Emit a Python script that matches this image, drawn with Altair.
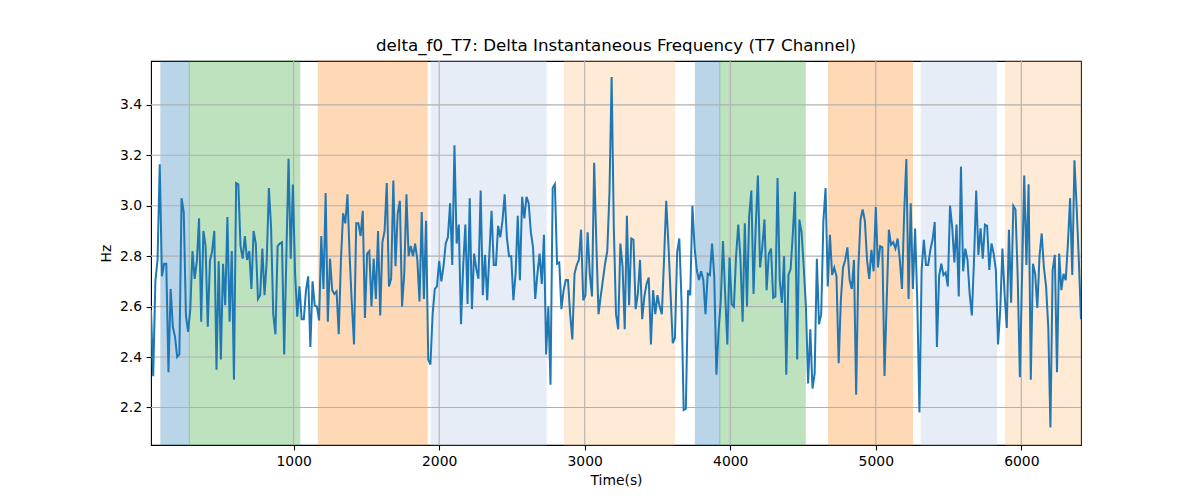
import altair as alt
import pandas as pd

# ---- data ----
time_start = 20      # s, first sample
time_step = 15       # s, sample spacing

freq_hz = [
    # 20 .. 800 s
    2.585, 2.324, 2.70, 2.785, 3.164, 2.72, 2.77, 2.77, 2.34, 2.67,
    2.52, 2.48, 2.40, 2.41, 3.03, 2.975, 2.565, 2.50, 2.59, 2.82,
    2.71, 2.78, 2.95, 2.54, 2.90, 2.84, 2.52, 2.78, 2.82, 2.90,
    2.35, 2.78, 2.39, 2.77, 2.605, 2.955, 2.54, 2.82, 2.31, 3.09,
    3.085, 2.84, 2.79, 2.88, 2.785, 2.82, 2.67, 2.90, 2.85, 2.63,
    2.645, 2.83, 2.645,
    # 815 .. 1610 s
    2.78, 3.07, 2.915, 2.57, 2.49, 2.84, 2.85, 2.855, 2.41, 2.80,
    3.186, 2.79, 3.084, 2.73, 2.56, 2.68, 2.55, 2.55, 2.665, 2.72,
    2.44, 2.70, 2.605, 2.60, 2.545, 2.88, 2.67, 3.05, 2.54, 2.79,
    2.665, 2.65, 2.66, 2.49, 2.785, 2.97, 2.93, 3.045, 2.80, 2.61,
    2.45, 2.93, 2.93, 2.88, 2.98, 2.555, 2.81, 2.82, 2.60, 2.79,
    2.63, 2.90, 2.565, 2.855,
    # 1625 .. 2405 s
    2.90, 3.09, 2.68, 2.71, 3.10, 2.76, 2.97, 3.02, 2.60, 2.73,
    3.045, 2.80, 2.84, 2.80, 2.85, 2.785, 2.62, 2.975, 2.63, 2.94,
    2.39, 2.37, 2.57, 2.67, 2.68, 2.78, 2.70, 2.76, 2.85, 2.875,
    3.01, 2.765, 3.24, 2.85, 2.925, 2.53, 2.76, 2.925, 2.61, 3.03,
    2.59, 2.81, 2.75, 2.71, 3.06, 2.645, 2.805, 2.625, 2.81, 2.98,
    2.765, 2.765, 2.92,
    # 2420 .. 3215 s
    2.875, 2.94, 3.045, 2.875, 2.80, 2.80, 2.625, 2.73, 2.96, 2.705,
    3.035, 2.95, 3.035, 3.01, 2.895, 2.835, 2.63, 2.73, 2.81, 2.69,
    2.885, 2.41, 2.60, 2.29, 3.07, 3.085, 2.77, 2.775, 2.59, 2.665,
    2.705, 2.705, 2.57, 2.47, 2.73, 2.765, 2.785, 2.905, 2.625, 2.645,
    2.895, 2.73, 2.64, 3.17, 2.85, 2.57, 2.64, 2.705, 2.77, 2.82,
    3.05, 3.51, 2.915, 2.57,
    # 3230 .. 4025 s
    2.51, 2.85, 2.76, 2.51, 2.96, 2.605, 2.87, 2.865, 2.59, 2.65,
    2.785, 2.55, 2.64, 2.69, 2.715, 2.45, 2.665, 2.57, 2.645, 2.60,
    2.57, 2.785, 3.02, 2.85, 2.65, 2.455, 2.475, 2.815, 2.87, 2.625,
    2.19, 2.195, 2.665, 2.645, 3.00, 2.835, 2.745, 2.705, 2.74, 2.705,
    2.57, 2.73, 2.725, 2.85, 2.72, 2.33, 2.505, 2.625, 2.86, 2.65,
    2.45, 2.795, 2.61, 2.60,
    # 4040 .. 4820 s
    2.80, 2.925, 2.79, 2.54, 2.93, 2.60, 2.96, 3.06, 2.65, 2.915,
    3.12, 2.755, 2.835, 2.945, 2.665, 2.81, 2.83, 2.635, 2.64, 3.11,
    2.705, 2.615, 2.80, 2.33, 2.725, 2.75, 2.89, 3.055, 2.39, 2.945,
    2.895, 2.755, 2.60, 2.295, 2.51, 2.275, 2.335, 2.79, 2.53, 2.57,
    2.94, 3.07, 2.68, 2.885, 2.725, 2.755, 2.72, 2.375, 2.625, 2.755,
    2.785, 2.835, 2.705,
    # 4835 .. 5630 s
    2.67, 2.785, 2.25, 2.75, 2.945, 2.985, 2.94, 2.785, 2.71, 2.825,
    2.74, 2.995, 2.755, 2.84, 2.835, 2.325, 2.625, 2.905, 2.845, 2.855,
    2.83, 2.87, 2.785, 2.67, 2.97, 3.185, 2.63, 3.01, 2.67, 2.91,
    2.625, 2.18, 2.745, 2.865, 2.765, 2.765, 2.825, 2.865, 2.935, 2.44,
    2.72, 2.77, 2.725, 2.735, 2.68, 3.00, 2.915, 2.775, 2.925, 2.64,
    3.155, 2.74, 2.83, 2.785,
    # 5645 .. 6410 s
    2.65, 2.565, 2.785, 3.06, 2.805, 2.91, 2.79, 2.925, 2.92, 2.745,
    2.85, 2.81, 2.745, 2.45, 2.585, 2.83, 2.65, 2.515, 2.905, 2.615,
    3.00, 2.985, 2.72, 2.32, 2.72, 3.12, 2.765, 3.085, 2.31, 2.77,
    2.73, 2.595, 2.80, 2.89, 2.755, 2.68, 2.52, 2.12, 2.745, 2.805,
    2.34, 2.81, 2.665, 2.73, 2.705, 2.85, 3.03, 2.725, 3.18, 2.995,
    2.785, 2.55,
]

span_start = [88, 283, 1170, 1946, 2861, 3761, 3928, 4675, 5312, 5891]
span_end = [283, 1042, 1917, 2735, 3617, 3928, 4515, 5252, 5830, 6410]
span_color = ["#1f77b4", "#2ca02c", "#ff7f0e", "#aec7e8", "#ffbb78",
              "#1f77b4", "#2ca02c", "#ff7f0e", "#aec7e8", "#ffbb78"]

x_ticks = [1000, 2000, 3000, 4000, 5000, 6000]
y_ticks = [2.2, 2.4, 2.6, 2.8, 3.0, 3.2, 3.4]
x_domain = [20, 6410]
y_domain = [2.051, 3.574]

# ---- tables ----
times = [time_start + time_step * i for i in range(len(freq_hz))]
line_df = pd.DataFrame({"t": times, "f": freq_hz})
span_df = pd.DataFrame({"start": span_start, "end": span_end, "color": span_color})
xt_df = pd.DataFrame({"t": x_ticks})
yt_df = pd.DataFrame({"f": y_ticks})

xscale = alt.Scale(domain=x_domain, nice=False, zero=False)
yscale = alt.Scale(domain=y_domain, nice=False, zero=False)

spans = alt.Chart(span_df).mark_rect(opacity=0.3, strokeWidth=1.1).encode(
    x=alt.X("start:Q", scale=xscale),
    x2="end:Q",
    color=alt.Color("color:N", scale=None),
    stroke=alt.Stroke("color:N", scale=None),
)

grid_x = alt.Chart(xt_df).mark_rule(color="#b0b0b0", strokeWidth=1.1).encode(
    x=alt.X("t:Q", scale=xscale)
)
grid_y = alt.Chart(yt_df).mark_rule(color="#b0b0b0", strokeWidth=1.1).encode(
    y=alt.Y("f:Q", scale=yscale)
)

line = alt.Chart(line_df).mark_line(color="#1f77b4", strokeWidth=2, clip=True).encode(
    x=alt.X("t:Q", scale=xscale,
            axis=alt.Axis(title="Time(s)", values=x_ticks, format="d", grid=False)),
    y=alt.Y("f:Q", scale=yscale,
            axis=alt.Axis(title="Hz", values=y_ticks, format=".1f", grid=False)),
)

chart = alt.layer(spans, grid_x, grid_y, line).properties(
    width=930,
    height=384,
    title=alt.TitleParams(
        "delta_f0_T7: Delta Instantaneous Frequency (T7 Channel)",
        anchor="middle", fontSize=16.7, font="DejaVu Sans", fontWeight="normal",
        color="black", offset=-7.5, baseline="alphabetic",
    ),
    padding={"left": 143, "top": 53, "right": 110, "bottom": 55},
    autosize=alt.AutoSizeParams(type="none"),
).configure_view(
    stroke="black", strokeWidth=1.1
).configure_axis(
    domain=False,
    tickColor="black", tickSize=4.9, tickWidth=1.1,
    labelColor="black", labelFont="DejaVu Sans", labelFontSize=13.9, labelPadding=4.5,
    titleColor="black", titleFont="DejaVu Sans", titleFontSize=13.9,
    titleFontWeight="normal",
).configure_axisX(titlePadding=5).configure_axisY(titlePadding=6)

chart.save("out.html", embed_options={"renderer": "svg", "actions": False})
